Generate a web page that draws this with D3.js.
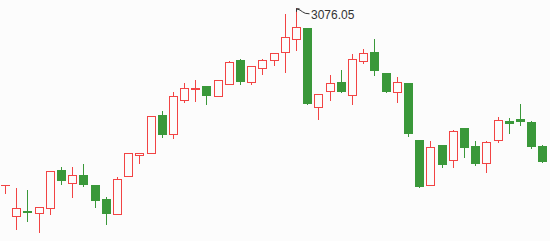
<!DOCTYPE html>
<html>
<head>
<meta charset="utf-8">
<script src="https://cdn.jsdelivr.net/npm/d3@7"></script>
<style>
  html, body { margin: 0; padding: 0; background: #fcfcfc; }
  svg { display: block; }
</style>
</head>
<body>
<svg id="chart" width="550" height="241"></svg>
<script>
// Daily OHLC series of the index
const opens  = [2811.00, 2764.05, 2771.55, 2768.55, 2776.05, 2833.50, 2813.55, 2826.00, 2811.00, 2790.00,
                2767.05, 2824.05, 2856.45, 2858.55, 2916.00, 2887.05, 2938.05, 2955.00, 2959.50, 2944.05,
                2962.05, 2998.50, 2965.05, 2986.05, 2998.05, 3010.05, 3030.00, 3046.50, 2928.45, 2951.55,
                2965.50, 2946.75, 2997.45, 3010.50, 2979.00, 2950.05, 2964.00, 2878.50, 2810.55, 2871.00,
                2848.05, 2896.50, 2869.50, 2843.55, 2878.05, 2907.00, 2910.00, 2905.50, 2869.50];
const closes = [2811.00, 2776.05, 2770.95, 2777.55, 2831.55, 2817.45, 2825.55, 2811.45, 2787.45, 2767.95,
                2819.55, 2858.55, 2858.55, 2914.05, 2886.45, 2944.05, 2956.05, 2957.25, 2944.95, 2968.05,
                2995.50, 2965.95, 2989.05, 2998.05, 3008.55, 3032.55, 3047.55, 2932.05, 2947.95, 2963.55,
                2950.95, 2999.55, 3008.55, 2982.45, 2950.95, 2965.05, 2887.95, 2808.45, 2867.55, 2841.45,
                2891.55, 2866.95, 2842.95, 2875.50, 2908.05, 2902.95, 2905.95, 2868.45, 2845.95];
const highs  = [2811.00, 2806.95, 2803.50, 2777.55, 2831.55, 2838.00, 2837.55, 2842.50, 2811.00, 2793.00,
                2823.00, 2858.55, 2858.55, 2914.05, 2922.00, 2950.50, 2964.00, 2968.50, 2959.50, 2968.05,
                2997.00, 3000.00, 2989.05, 3000.45, 3008.55, 3067.50, 3076.05, 3046.50, 2947.95, 2975.55,
                2983.50, 3007.95, 3015.00, 3030.00, 2979.00, 2973.00, 2964.00, 2878.50, 2877.00, 2871.00,
                2893.05, 2896.50, 2877.00, 2877.00, 2913.00, 2911.50, 2932.50, 2907.00, 2871.45];
const lows   = [2799.00, 2745.00, 2757.45, 2740.95, 2767.05, 2812.95, 2793.45, 2809.95, 2777.55, 2752.95,
                2767.05, 2824.05, 2844.45, 2858.55, 2883.45, 2881.95, 2935.95, 2937.45, 2932.95, 2944.05,
                2962.05, 2962.05, 2962.05, 2977.05, 2990.55, 2980.95, 3013.05, 2932.05, 2909.55, 2938.05,
                2950.95, 2932.95, 2994.45, 2976.45, 2950.95, 2935.95, 2884.95, 2808.45, 2810.55, 2838.45,
                2838.45, 2853.45, 2841.45, 2830.95, 2875.05, 2889.45, 2901.45, 2866.95, 2845.95];

const upColor = "#f24444";
const downColor = "#3a983a";
const bg = "#fcfcfc";

const candles = opens.map((o, i) => ({ i, open: o, close: closes[i], high: highs[i], low: lows[i] }));

const svg = d3.select("#chart");

const x = d3.scaleBand()
  .domain(candles.map(d => d.i))
  .range([-0.6, 547.9])
  .padding(0);

const y = d3.scaleLinear()
  .domain([d3.min(lows), d3.max(highs)])
  .range([231.7, 8.3]);

const cx = d => Math.round(x(d.i) + x.bandwidth() / 2) + 0.5;
const isUp = d => d.close >= d.open;
const bodyPx = d => Math.round(y(d.open)) - Math.round(y(d.close));

const g = svg.append("g");

// wicks
g.selectAll("line.wick")
  .data(candles)
  .join("line")
  .attr("class", "wick")
  .attr("x1", cx).attr("x2", cx)
  .attr("y1", d => Math.round(y(d.high)))
  .attr("y2", d => Math.round(y(d.low)) + 1)
  .attr("stroke", d => isUp(d) ? upColor : downColor)
  .attr("stroke-width", 1);

// rising days: hollow bodies
g.selectAll("rect.up")
  .data(candles.filter(d => isUp(d) && bodyPx(d) > 0))
  .join("rect")
  .attr("class", "up")
  .attr("x", d => cx(d) - 4)
  .attr("width", 8)
  .attr("y", d => Math.round(y(d.close)) + 0.5)
  .attr("height", d => bodyPx(d))
  .attr("fill", bg)
  .attr("stroke", upColor)
  .attr("stroke-width", 1);

// unchanged days: a single tick
g.selectAll("line.flat")
  .data(candles.filter(d => isUp(d) && bodyPx(d) <= 0))
  .join("line")
  .attr("class", "flat")
  .attr("x1", d => cx(d) - 4.5)
  .attr("x2", d => cx(d) + 4.5)
  .attr("y1", d => Math.round(y(d.close)) + 0.5)
  .attr("y2", d => Math.round(y(d.close)) + 0.5)
  .attr("stroke", upColor)
  .attr("stroke-width", 1);

// falling days: filled bodies
g.selectAll("rect.down")
  .data(candles.filter(d => !isUp(d)))
  .join("rect")
  .attr("class", "down")
  .attr("x", d => cx(d) - 4.5)
  .attr("width", 9)
  .attr("y", d => Math.round(y(d.open)))
  .attr("height", d => Math.max(2, -bodyPx(d)))
  .attr("fill", downColor);

// highest-high marker
const peak = candles.reduce((a, b) => (b.high > a.high ? b : a));
const tx = cx(peak), ty = y(peak.high) + 0.5;
const note = svg.append("g").attr("stroke", "#333").attr("fill", "none").attr("stroke-width", 1);
note.append("path").attr("d", `M${tx + 3},${ty} L${tx},${ty} L${tx},${ty + 3}`);
note.append("path").attr("d", `M${tx},${ty} Q${tx + 4},${ty + 1} ${tx + 6},${ty + 3} T${tx + 13},${ty + 5}`);
svg.append("text")
  .attr("x", tx + 14.5)
  .attr("y", ty + 10.5)
  .attr("font-family", "Liberation Sans, Arial, sans-serif")
  .attr("font-size", 12)
  .attr("fill", "#333")
  .text(d3.format(".2f")(peak.high));
</script>
</body>
</html>
